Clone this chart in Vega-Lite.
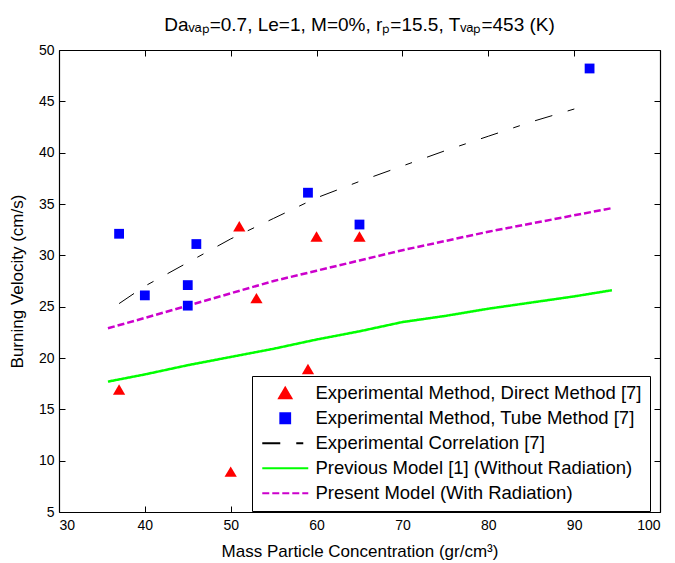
{
  "$schema": "https://vega.github.io/schema/vega-lite/v6.json",
  "width": 601,
  "height": 462,
  "autosize": {"type": "none"},
  "padding": {"left": 59, "top": 50, "right": 15, "bottom": 51},
  "background": "white",
  "config": {
    "view": {"stroke": null},
    "font": "Liberation Sans",
    "axis": {"grid": false, "domainColor": "black", "tickColor": "black", "labelColor": "black", "titleColor": "black", "labelFont": "Liberation Sans", "titleFont": "Liberation Sans", "labelFontSize": 14, "titleFontSize": 17, "titleFontWeight": "normal", "tickSize": -6, "domainWidth": 1.2, "tickWidth": 1}
  },
  "title": {"text": "Daᵥₐₚ=0.7, Le=1, M=0%, rₚ=15.5, Tᵥₐₚ=453 (K)", "fontSize": 19, "fontWeight": "normal", "font": "Liberation Sans", "color": "black", "offset": 8, "anchor": "middle"},
  "data": {"values": [
    {"series": "Experimental Method, Direct Method [7]", "x": 37, "y": 16.9},
    {"series": "Experimental Method, Direct Method [7]", "x": 50, "y": 8.9},
    {"series": "Experimental Method, Direct Method [7]", "x": 51, "y": 32.8},
    {"series": "Experimental Method, Direct Method [7]", "x": 53, "y": 25.8},
    {"series": "Experimental Method, Direct Method [7]", "x": 59, "y": 18.9},
    {"series": "Experimental Method, Direct Method [7]", "x": 60, "y": 31.8},
    {"series": "Experimental Method, Direct Method [7]", "x": 65, "y": 31.8},
    {"series": "Experimental Method, Tube Method [7]", "x": 37, "y": 32.1},
    {"series": "Experimental Method, Tube Method [7]", "x": 40, "y": 26.1},
    {"series": "Experimental Method, Tube Method [7]", "x": 45, "y": 27.1},
    {"series": "Experimental Method, Tube Method [7]", "x": 45, "y": 25.1},
    {"series": "Experimental Method, Tube Method [7]", "x": 46, "y": 31.1},
    {"series": "Experimental Method, Tube Method [7]", "x": 59, "y": 36.1},
    {"series": "Experimental Method, Tube Method [7]", "x": 65, "y": 33.0},
    {"series": "Experimental Method, Tube Method [7]", "x": 91.8, "y": 48.2},
    {"series": "Experimental Correlation [7]", "x": 37, "y": 25.3},
    {"series": "Experimental Correlation [7]", "x": 40, "y": 27.0},
    {"series": "Experimental Correlation [7]", "x": 45, "y": 29.3},
    {"series": "Experimental Correlation [7]", "x": 50, "y": 31.6},
    {"series": "Experimental Correlation [7]", "x": 55, "y": 33.6},
    {"series": "Experimental Correlation [7]", "x": 60, "y": 35.6},
    {"series": "Experimental Correlation [7]", "x": 65, "y": 37.2},
    {"series": "Experimental Correlation [7]", "x": 70, "y": 38.7},
    {"series": "Experimental Correlation [7]", "x": 75, "y": 40.2},
    {"series": "Experimental Correlation [7]", "x": 80, "y": 41.6},
    {"series": "Experimental Correlation [7]", "x": 85, "y": 43.0},
    {"series": "Experimental Correlation [7]", "x": 91.8, "y": 44.7},
    {"series": "Previous Model [1] (Without Radiation)", "x": 35.7, "y": 17.7},
    {"series": "Previous Model [1] (Without Radiation)", "x": 40, "y": 18.4},
    {"series": "Previous Model [1] (Without Radiation)", "x": 45, "y": 19.3},
    {"series": "Previous Model [1] (Without Radiation)", "x": 50, "y": 20.1},
    {"series": "Previous Model [1] (Without Radiation)", "x": 55, "y": 20.9},
    {"series": "Previous Model [1] (Without Radiation)", "x": 60, "y": 21.8},
    {"series": "Previous Model [1] (Without Radiation)", "x": 65, "y": 22.6},
    {"series": "Previous Model [1] (Without Radiation)", "x": 70, "y": 23.5},
    {"series": "Previous Model [1] (Without Radiation)", "x": 75, "y": 24.1},
    {"series": "Previous Model [1] (Without Radiation)", "x": 80, "y": 24.8},
    {"series": "Previous Model [1] (Without Radiation)", "x": 85, "y": 25.4},
    {"series": "Previous Model [1] (Without Radiation)", "x": 90, "y": 26.0},
    {"series": "Previous Model [1] (Without Radiation)", "x": 94.4, "y": 26.6},
    {"series": "Present Model (With Radiation)", "x": 35.7, "y": 22.9},
    {"series": "Present Model (With Radiation)", "x": 40, "y": 23.9},
    {"series": "Present Model (With Radiation)", "x": 45, "y": 25.1},
    {"series": "Present Model (With Radiation)", "x": 50, "y": 26.3},
    {"series": "Present Model (With Radiation)", "x": 55, "y": 27.5},
    {"series": "Present Model (With Radiation)", "x": 60, "y": 28.5},
    {"series": "Present Model (With Radiation)", "x": 65, "y": 29.5},
    {"series": "Present Model (With Radiation)", "x": 70, "y": 30.5},
    {"series": "Present Model (With Radiation)", "x": 75, "y": 31.4},
    {"series": "Present Model (With Radiation)", "x": 80, "y": 32.3},
    {"series": "Present Model (With Radiation)", "x": 85, "y": 33.1},
    {"series": "Present Model (With Radiation)", "x": 90, "y": 33.9},
    {"series": "Present Model (With Radiation)", "x": 94.4, "y": 34.6}
  ]},
  "resolve": {"axis": {"x": "independent", "y": "independent"}},
  "layer": [
    {
      "transform": [{"filter": "datum.series == 'Experimental Correlation [7]'"}],
      "mark": {"type": "line", "strokeWidth": 1},
      "encoding": {
        "x": {"field": "x", "type": "quantitative", "scale": {"domain": [30, 100], "nice": false, "zero": false}, "axis": {"orient": "top", "labels": false, "title": null, "values": [30, 40, 50, 60, 70, 80, 90, 100]}},
        "y": {"field": "y", "type": "quantitative", "scale": {"domain": [5, 50], "nice": false, "zero": false}, "axis": {"orient": "right", "labels": false, "title": null, "values": [5, 10, 15, 20, 25, 30, 35, 40, 45, 50]}},
        "color": {"field": "series", "type": "nominal"},
        "strokeDash": {"field": "series", "type": "nominal",
          "scale": {"domain": ["Experimental Method, Direct Method [7]", "Experimental Method, Tube Method [7]", "Experimental Correlation [7]", "Previous Model [1] (Without Radiation)", "Present Model (With Radiation)"], "range": [[1, 0], [1, 0], [18, 16, 7, 16], [1, 0], [7, 3]]}}
      }
    },
    {
      "transform": [{"filter": "datum.series == 'Previous Model [1] (Without Radiation)'"}],
      "mark": {"type": "line", "strokeWidth": 2.5},
      "encoding": {
        "x": {"field": "x", "type": "quantitative", "axis": null},
        "y": {"field": "y", "type": "quantitative", "axis": null},
        "color": {"field": "series", "type": "nominal"},
        "strokeDash": {"field": "series", "type": "nominal"}
      }
    },
    {
      "transform": [{"filter": "datum.series == 'Present Model (With Radiation)'"}],
      "mark": {"type": "line", "strokeWidth": 2.5},
      "encoding": {
        "x": {"field": "x", "type": "quantitative", "axis": null},
        "y": {"field": "y", "type": "quantitative", "axis": null},
        "color": {"field": "series", "type": "nominal"},
        "strokeDash": {"field": "series", "type": "nominal"}
      }
    },
    {
      "transform": [{"filter": "datum.series == 'Experimental Method, Direct Method [7]' || datum.series == 'Experimental Method, Tube Method [7]'"}],
      "mark": {"type": "point", "filled": true, "opacity": 1, "size": 150, "strokeWidth": 0, "xOffset": -16},
      "encoding": {
        "x": {"field": "x", "type": "quantitative", "axis": {"orient": "bottom", "title": "Mass Particle Concentration (gr/cm³)", "values": [30, 40, 50, 60, 70, 80, 90, 100], "labelPadding": 12, "titleY": 31}},
        "y": {"field": "y", "type": "quantitative", "axis": {"orient": "left", "title": "Burning Velocity (cm/s)", "values": [5, 10, 15, 20, 25, 30, 35, 40, 45, 50], "labelPadding": 11, "titleX": -33}},
        "color": {"field": "series", "type": "nominal",
          "scale": {"domain": ["Experimental Method, Direct Method [7]", "Experimental Method, Tube Method [7]", "Experimental Correlation [7]", "Previous Model [1] (Without Radiation)", "Present Model (With Radiation)"], "range": ["#ff0000", "#0000ff", "#000000", "#00ff00", "#cc00cc"]},
          "legend": {
            "title": null, "orient": "none", "legendX": 193, "legendY": 326,
            "padding": 8, "rowPadding": 6, "labelFontSize": 18.5, "labelFont": "Liberation Sans", "labelColor": "black", "labelLimit": 0, "labelOffset": 37,
            "symbolSize": 150, "symbolStrokeWidth": 2, "strokeColor": "black", "fillColor": "white", "symbolOpacity": 1
          }
        },
        "shape": {"field": "series", "type": "nominal",
          "scale": {"domain": ["Experimental Method, Direct Method [7]", "Experimental Method, Tube Method [7]", "Experimental Correlation [7]", "Previous Model [1] (Without Radiation)", "Present Model (With Radiation)"], "range": ["M2.61,-0.9L3.61,0.8L1.61,0.8Z", "M1.81,-0.8H3.41V0.8H1.81Z", "M-1.14,0H6.37", "M-1.14,0H6.37", "M-1.14,0H6.37"]}}
      }
    }
  ]
}
